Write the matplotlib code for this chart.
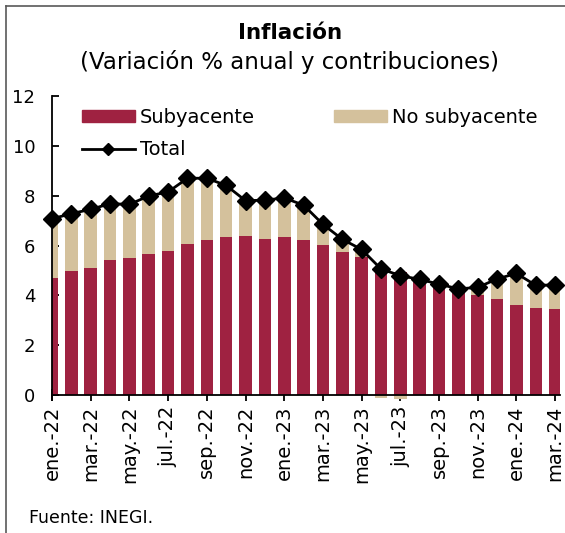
import matplotlib
matplotlib.use("Agg")
import matplotlib.pyplot as plt
from matplotlib.lines import Line2D
import numpy as np

months = ["ene.-22", "feb.-22", "mar.-22", "abr.-22", "may.-22", "jun.-22", "jul.-22",
          "ago.-22", "sep.-22", "oct.-22", "nov.-22", "dic.-22", "ene.-23", "feb.-23",
          "mar.-23", "abr.-23", "may.-23", "jun.-23", "jul.-23", "ago.-23", "sep.-23",
          "oct.-23", "nov.-23", "dic.-23", "ene.-24", "feb.-24", "mar.-24"]
subyacente = [4.70, 4.98, 5.10, 5.42, 5.50, 5.65, 5.77, 6.08, 6.24, 6.33, 6.38, 6.27, 6.36, 6.21,
              6.04, 5.74, 5.54, 5.17, 4.93, 4.55, 4.35, 4.13, 4.00, 3.85, 3.60, 3.51, 3.47]
no_subyacente = [2.37, 2.30, 2.35, 2.26, 2.15, 2.34, 2.38, 2.62, 2.46, 2.08, 1.42, 1.55, 1.55, 1.41,
                 0.81, 0.51, 0.30, -0.11, -0.14, 0.09, 0.10, 0.13, 0.32, 0.81, 1.28, 0.89, 0.95]
total = [7.07, 7.28, 7.45, 7.68, 7.65, 7.99, 8.15, 8.70, 8.70, 8.41, 7.80, 7.82, 7.91, 7.62,
         6.85, 6.25, 5.84, 5.06, 4.79, 4.64, 4.45, 4.26, 4.32, 4.66, 4.88, 4.40, 4.42]
yticks = [0, 2, 4, 6, 8, 10, 12]

C_CORE = "#9F2241"
C_NON = "#D4C19C"

plt.rcParams['font.family'] = ['DejaVu Sans']

W, H = 565, 533
fig = plt.figure(figsize=(W / 100, H / 100), dpi=100)
ax = fig.add_axes([52 / W, 1 - 400 / H, (560 - 52) / W, (400 - 96) / H])

x = np.arange(len(months))
core = np.array(subyacente)
non = np.array(no_subyacente)
bottom_non = np.where(non >= 0, core, 0)
ax.bar(x, core, width=0.65, color=C_CORE, label="Subyacente", zorder=2)
ax.bar(x, non, width=0.65, bottom=bottom_non, color=C_NON, label="No subyacente", zorder=2)
ax.plot(x, total, color="black", lw=2, marker="D", ms=8.7, label="Total", zorder=3,
        clip_on=False)

ax.set_xlim(0, 26.25)
ax.set_ylim(-0.2, 12)
ax.set_yticks(yticks)
ax.set_yticklabels([str(v) for v in yticks])
ax.set_xticks(x[::2])
ax.set_xticklabels(months[::2])
ax.spines['top'].set_visible(False)
ax.spines['right'].set_visible(False)
ax.spines['bottom'].set_position(('data', 0))
for s in ['left', 'bottom']:
    ax.spines[s].set_linewidth(1.3)
ax.tick_params(axis='y', direction='in', length=5, width=1.3, pad=12, labelsize=13)
ax.tick_params(axis='x', direction='inout', length=9, width=1.3, pad=3, labelsize=14,
               labelrotation=90)

h_core = plt.Rectangle((0, 0), 1, 1, color=C_CORE)
h_non = plt.Rectangle((0, 0), 1, 1, color=C_NON)
h_tot = Line2D([], [], color="black", lw=2, marker="D", ms=6)
fig.legend([h_core, h_tot, h_non], ["Subyacente", "Total", "No subyacente"],
           ncol=2, loc="upper left", bbox_to_anchor=(82 / W, 1 - 108 / H),
           frameon=False, fontsize=14, handlelength=2.7, handleheight=0.62,
           handletextpad=0.26, columnspacing=4.1, labelspacing=0.68, borderpad=0,
           borderaxespad=0)

fig.text(290 / W, 1 - 33 / H, "Inflación", ha="center", va="center", fontsize=15.5,
         fontweight="bold")
fig.text(289 / W, 1 - 62 / H, "(Variación % anual y contribuciones)", ha="center",
         va="center", fontsize=16.5)
fig.text(29 / W, 1 - 518 / H, "Fuente: INEGI.", ha="left", va="center", fontsize=12.5)

# figure border
fig.add_artist(Line2D([6 / W, 6 / W], [0, 1 - 6 / H], color="#595959", lw=1.2))
fig.add_artist(Line2D([6 / W, 1], [1 - 6 / H, 1 - 6 / H], color="#595959", lw=1.2))

fig.savefig("out.png", dpi=100)
